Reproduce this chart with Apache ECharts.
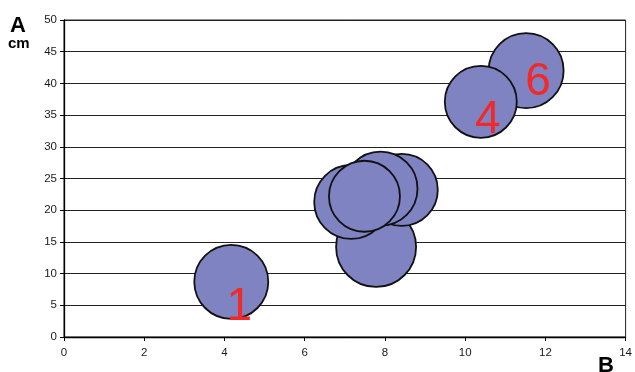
<!DOCTYPE html>
<html>
<head>
<meta charset="utf-8">
<script src="https://cdn.jsdelivr.net/npm/echarts@6/dist/echarts.min.js"></script>
<style>
html,body{margin:0;padding:0;background:#fff;}
#c{width:635px;height:372px;}
</style>
</head>
<body>
<div id="c"></div>
<script>
// Data
var xValues = [4.17, 7.78, 7.16, 8.42, 7.89, 7.49, 11.52, 10.39];
var yValues = [8.7, 14.2, 21.3, 23.2, 23.4, 22.2, 42.0, 37.1];
var sizes   = [37, 40, 37, 36, 37, 35.5, 37.5, 36];
var pointLabels = ['1', '', '', '', '', '', '6', '4'];
var xTicks = [0, 2, 4, 6, 8, 10, 12, 14];
var yTicks = [0, 5, 10, 15, 20, 25, 30, 35, 40, 45, 50];

// label offsets (style only)
var labelOffsets = {'1': [8, 25], '4': [7, 19], '6': [12, 12]};

var chart = echarts.init(document.getElementById('c'), null, {renderer: 'canvas'});
var data = xValues.map(function (x, i) {
  var lbl = pointLabels[i];
  var item = {value: [x, yValues[i], sizes[i]], name: lbl};
  if (lbl) {
    item.label = {show: true, formatter: lbl, offset: labelOffsets[lbl]};
  }
  return item;
});

var font = '"Liberation Sans", Arial, sans-serif';
chart.setOption({
  animation: false,
  grid: {left: 64, right: 7, top: 20, bottom: 35, show: true, borderColor: '#222', borderWidth: 1, backgroundColor: 'transparent'},
  xAxis: {
    type: 'value', min: xTicks[0], max: xTicks[xTicks.length - 1], interval: 2,
    axisLine: {show: true, onZero: false, lineStyle: {color: '#000', width: 1.3}},
    axisTick: {show: true, length: 4, lineStyle: {color: '#000'}},
    axisLabel: {color: '#1a1a1a', fontSize: 11.5, fontFamily: font, margin: 10},
    splitLine: {show: false}
  },
  yAxis: {
    type: 'value', min: yTicks[0], max: yTicks[yTicks.length - 1], interval: 5,
    axisLine: {show: true, onZero: false, lineStyle: {color: '#000', width: 1.3}},
    axisTick: {show: true, length: 4, lineStyle: {color: '#000'}},
    axisLabel: {color: '#1a1a1a', fontSize: 11.5, fontFamily: font, margin: 7},
    splitLine: {show: true, lineStyle: {color: '#222', width: 1.2}}
  },
  graphic: [
    {type: 'text', left: 10, top: 15, style: {text: 'A', font: 'bold 22px ' + font, fill: '#000'}},
    {type: 'text', left: 8, top: 36, style: {text: 'cm', font: 'bold 15px ' + font, fill: '#000'}},
    {type: 'text', left: 598, top: 355, style: {text: 'B', font: 'bold 22px ' + font, fill: '#000'}}
  ],
  series: [{
    type: 'scatter',
    data: data,
    symbolSize: function (v) { return v[2] * 2; },
    itemStyle: {color: '#7f83c1', borderColor: '#111', borderWidth: 1.8, opacity: 1},
    label: {
      show: false, position: 'inside', color: '#f02a2a',
      fontSize: 46, fontFamily: font
    },
    emphasis: {disabled: true}
  }]
});
</script>
</body>
</html>
